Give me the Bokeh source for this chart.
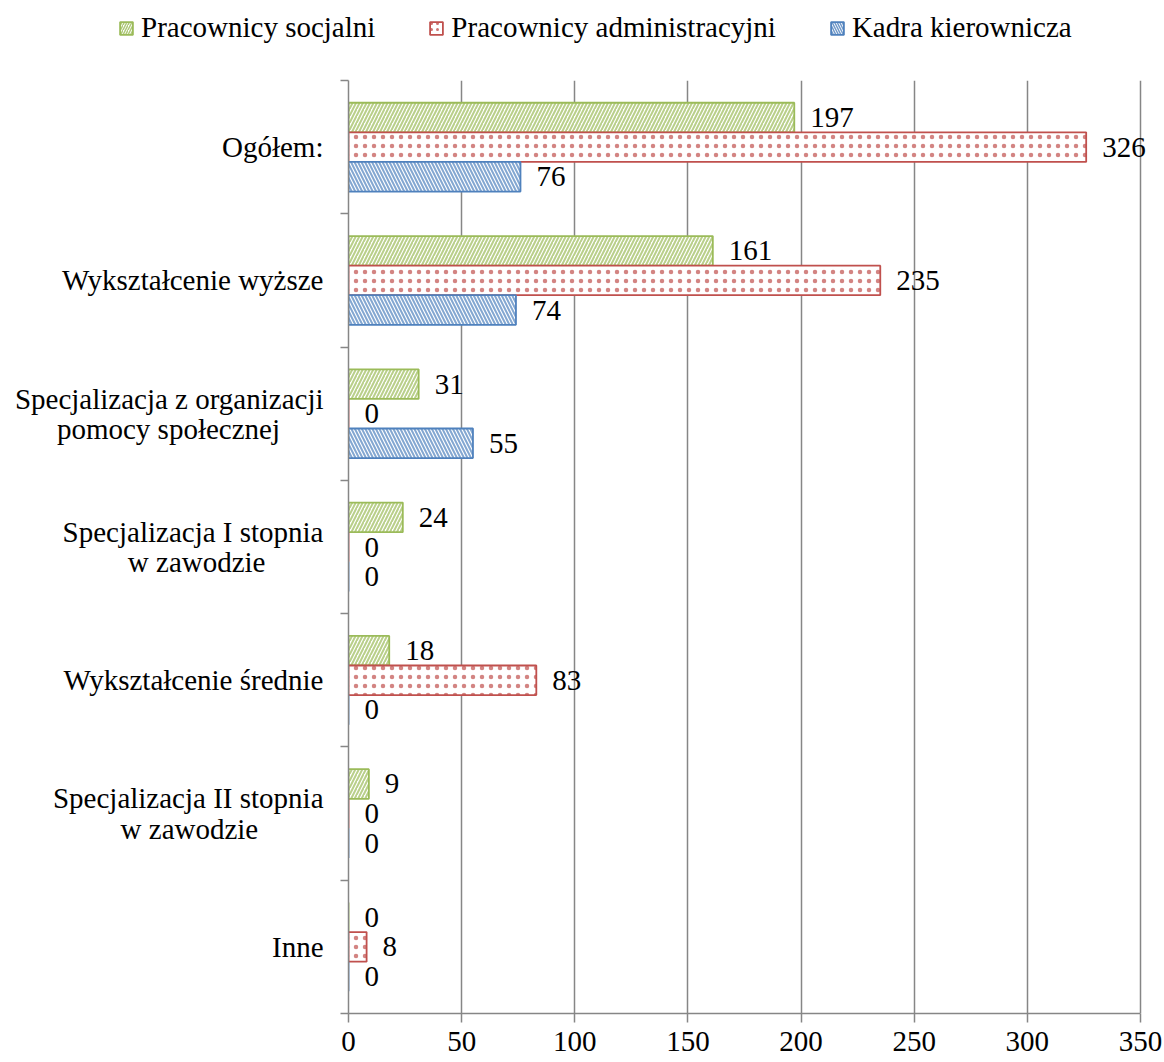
from bokeh.plotting import figure
from bokeh.models import ColumnDataSource, FixedTicker, Legend, LegendItem, Range1d
from bokeh.core.properties import value
from bokeh.embed import file_html
from bokeh.resources import INLINE

categories = ["Ogółem:", "Wykształcenie wyższe",
              "Specjalizacja z organizacji\npomocy społecznej",
              "Specjalizacja I stopnia\nw zawodzie",
              "Wykształcenie średnie",
              "Specjalizacja II stopnia\nw zawodzie",
              "Inne"]
socjalni = [197, 161, 31, 24, 18, 9, 0]
administracyjni = [326, 235, 0, 0, 83, 0, 8]
kadra = [76, 74, 55, 0, 0, 0, 0]
series_names = ["Pracownicy socjalni", "Pracownicy administracyjni", "Kadra kierownicza"]
x_ticks = [0, 50, 100, 150, 200, 250, 300, 350]

# right padding (non-breaking spaces) on second lines so the two lines look centred
second_line_pad = {2: 6, 3: 8, 5: 9}

def display_label(i, label):
    lines = label.split("\n")
    if len(lines) == 2:
        lines[1] = lines[1] + "\u00a0" * second_line_pad.get(i, 0)
    return "\n".join(lines)

n = len(categories)
pos = [n - i for i in range(n)]
BAR = 0.222
FONT = "Liberation Serif"
FS = "29px"
W = 1164
X_MAX = 350
X_VIEW = X_MAX * 800 / 792   # a little room so the "326" label is not clipped

styles = [
    dict(color="#9BBB59", pattern="/", off=BAR, vals=socjalni, scale=7, weight=2),
    dict(color="#C0504D", pattern=".", off=0.0, vals=administracyjni, scale=9, weight=2.5),
    dict(color="#4F81BD", pattern="\\", off=-BAR, vals=kadra, scale=7, weight=2),
]

# ---- main chart
p = figure(width=W, height=1002, output_backend="svg", toolbar_location=None,
           x_range=Range1d(0, X_VIEW), y_range=Range1d(0.5, n + 0.5),
           min_border_left=348, min_border_right=W - 348 - 800, min_border_top=20, min_border_bottom=49)
p.outline_line_color = None

for st in styles:
    src = ColumnDataSource(dict(y=[v + st["off"] for v in pos], x=st["vals"],
                                lbl=[str(v) for v in st["vals"]]))
    p.hbar(y="y", right="x", left=0, height=BAR, source=src,
           fill_color="white", line_color=st["color"], line_width=1.8,
           hatch_pattern=st["pattern"], hatch_color=st["color"],
           hatch_scale=st["scale"], hatch_weight=st["weight"], hatch_alpha=0.7)
    p.text(x="x", y="y", text="lbl", source=src, x_offset=16, text_baseline="middle",
           text_align="left", text_font=value(FONT), text_font_size=FS, text_color="black")

p.xaxis.ticker = FixedTicker(ticks=x_ticks)
p.xaxis.bounds = (0, X_MAX)
p.xaxis.axis_line_color = "#868686"
p.xaxis.axis_line_width = 1.5
p.xaxis.major_tick_line_color = "#868686"
p.xaxis.major_tick_line_width = 1.5
p.xaxis.major_tick_out = 9
p.xaxis.major_tick_in = 0
p.xaxis.minor_tick_line_color = None
p.xaxis.major_label_text_font = FONT
p.xaxis.major_label_text_font_size = FS
p.xaxis.major_label_text_color = "black"
p.xaxis.major_label_standoff = 9

p.yaxis.ticker = FixedTicker(ticks=pos, minor_ticks=[k + 0.5 for k in range(n + 1)])
p.yaxis.major_label_overrides = {v: display_label(i, c) for i, (v, c) in enumerate(zip(pos, categories))}
p.yaxis.axis_line_color = "#868686"
p.yaxis.axis_line_width = 1.5
p.yaxis.major_tick_line_color = None
p.yaxis.major_tick_out = 8
p.yaxis.minor_tick_line_color = "#868686"
p.yaxis.minor_tick_line_width = 1.5
p.yaxis.minor_tick_out = 8
p.yaxis.minor_tick_in = 0
p.yaxis.major_label_text_font = FONT
p.yaxis.major_label_text_font_size = FS
p.yaxis.major_label_text_color = "black"
p.yaxis.major_label_text_line_height = 0.95
p.yaxis.major_label_standoff = 17

p.xgrid.ticker = FixedTicker(ticks=x_ticks)
p.xgrid.bounds = (0, X_MAX)
p.xgrid.grid_line_color = "#868686"
p.xgrid.grid_line_width = 1.5
p.ygrid.grid_line_color = None

# ---- legend strip (separate root so its frame is not aligned with the chart)
lg = figure(width=W, height=60, output_backend="svg", toolbar_location=None,
            x_axis_type=None, y_axis_type=None, min_border=0,
            x_range=Range1d(0, 1), y_range=Range1d(0, 1))
lg.outline_line_color = None
lg.border_fill_color = "white"
lg.xgrid.grid_line_color = None
lg.ygrid.grid_line_color = None
items = []
for name, st in zip(series_names, styles):
    # legend-only renderer: a zero-size bar outside the visible range
    r = lg.hbar(y=[0.5], left=[3], right=[3], height=0,
                fill_color="white", line_color=st["color"], line_width=1.8,
                hatch_pattern=st["pattern"], hatch_color=st["color"],
                hatch_scale=5 if st["pattern"] != "." else 6,
                hatch_weight=1.5, hatch_alpha=0.8)
    items.append(LegendItem(label=name, renderers=[r]))
legend = Legend(items=items, orientation="horizontal", location=(118, 16),
                label_text_font=FONT, label_text_font_size=FS, label_text_color="black",
                glyph_width=16, glyph_height=16, label_standoff=7, spacing=53,
                border_line_color=None, background_fill_alpha=0, padding=0, margin=0)
lg.add_layout(legend, "center")

open("out.html", "w").write(file_html([lg, p], INLINE))
